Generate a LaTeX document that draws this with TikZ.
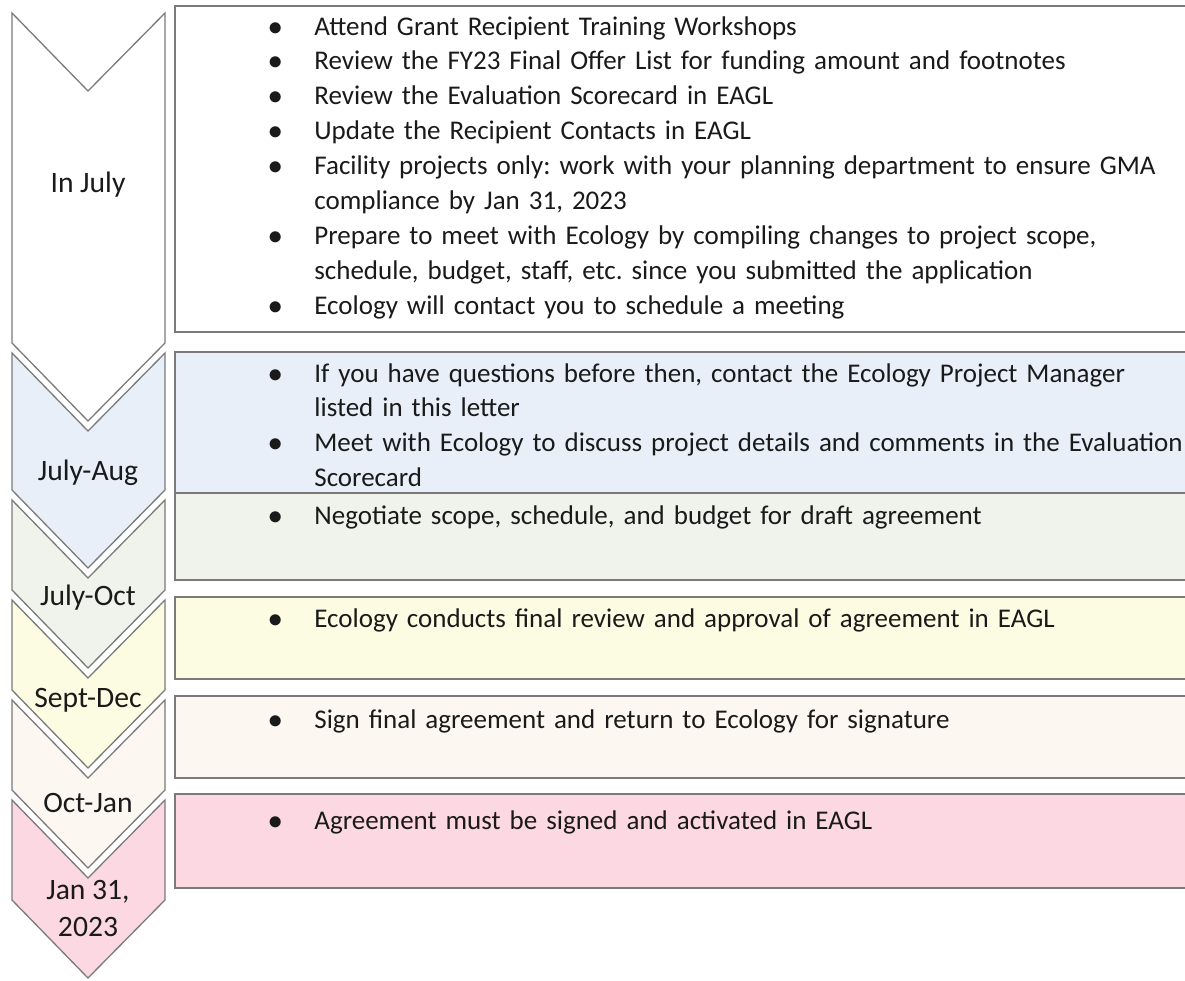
\documentclass[tikz,border=0pt]{standalone}
\usepackage{fontspec}
\setmainfont{Carlito}
\usetikzlibrary{positioning}

\definecolor{lineg}{HTML}{7A7A7A}
\definecolor{ink}{HTML}{1A1A1A}
\definecolor{boxA}{HTML}{FFFFFF}
\definecolor{boxB}{HTML}{E8EFF9}
\definecolor{boxC}{HTML}{F0F2EC}
\definecolor{boxD}{HTML}{FCFCE3}
\definecolor{boxE}{HTML}{FDF7F2}
\definecolor{boxF}{HTML}{FCD8E3}

% one bullet line, wrapped lines hang under the text
\newcommand{\bpoint}[1]{\noindent\hangindent=23pt\hangafter=1\makebox[23pt][l]{$\bullet$}#1\par}

\begin{document}
\frenchspacing
\begin{tikzpicture}[x=0.5pt, y=-0.5pt,
    box/.style={draw=lineg, line width=0.65pt, minimum width=510pt, inner sep=0pt},
    txt/.style={anchor=base west, inner sep=0pt, text width=480pt, align=left, text=ink, yshift=-1pt,
        font=\fontsize{13.5}{17.45}\selectfont\setlength{\parskip}{0pt}},
    chev/.style={draw=lineg, line width=0.65pt, preaction={draw=white, line width=3pt}},
    lbl/.style={inner sep=0pt, align=center, text=ink, font=\fontsize{14.8}{18.5}\selectfont}
]
    \useasboundingbox (0,0) rectangle (1185,981);

    % Timeline chevrons
    \foreach \yt/\yb/\col/\ly/\nm/\txt in {
        13/343/boxA/185/injuly/{In July},
        353/490/boxB/473/julyaug/{July-Aug},
        500/590/boxC/598/julyoct/{July-Oct},
        600/690/boxD/700/septdec/{Sept-Dec},
        700/790/boxE/803/octjan/{Oct-Jan},
        800/900/boxF/908/janend/{Jan 31,\\2023}} {
        \filldraw[chev, fill=\col] (12,\yt) -- (88,{\yt+78}) -- (165,\yt) -- (165,\yb)
            -- (88,{\yb+78}) -- (12,\yb) -- cycle;
        \node[lbl] (\nm) at (88,\ly) {\txt};
    }

    % Task boxes
    \node[box, fill=boxA, minimum height=163pt] (julybox) at (685,169) {};
    \node[box, fill=boxB, minimum height=70.5pt] (augbox) at (685,422.5) {};
    \node[box, fill=boxC, minimum height=43.5pt] (octbox) at (685,536.5) {};
    \node[box, fill=boxD, minimum height=41pt] (decbox) at (685,638) {};
    \node[box, fill=boxE, minimum height=41pt] (janbox) at (685,737) {};
    \node[box, fill=boxF, minimum height=47pt] (endbox) at (685,841) {};

    % Task lists
    \node[txt] (julytext) at (268,33) {
        \bpoint{Attend Grant Recipient Training Workshops}
        \bpoint{Review the FY23 Final Offer List for funding amount and footnotes}
        \bpoint{Review the Evaluation Scorecard in EAGL}
        \bpoint{Update the Recipient Contacts in EAGL}
        \bpoint{Facility projects only: work with your planning department to ensure GMA\newline compliance by Jan 31, 2023}
        \bpoint{Prepare to meet with Ecology by compiling changes to project scope,\newline schedule, budget, staff, etc. since you submitted the application}
        \bpoint{Ecology will contact you to schedule a meeting}
    };
    \node[txt] (augtext) at (268,380) {
        \bpoint{If you have questions before then, contact the Ecology Project Manager\newline listed in this letter}
        \bpoint{Meet with Ecology to discuss project details and comments in the Evaluation\newline Scorecard}
    };
    \node[txt] (octtext) at (268,522) {\bpoint{Negotiate scope, schedule, and budget for draft agreement}};
    \node[txt] (dectext) at (268,625) {\bpoint{Ecology conducts final review and approval of agreement in EAGL}};
    \node[txt] (jantext) at (268,726) {\bpoint{Sign final agreement and return to Ecology for signature}};
    \node[txt] (endtext) at (268,827) {\bpoint{Agreement must be signed and activated in EAGL}};
\end{tikzpicture}
\end{document}
